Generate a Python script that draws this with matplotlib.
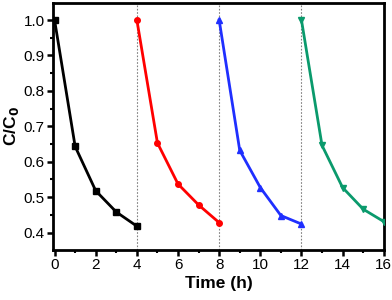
import numpy as np
import matplotlib.pyplot as plt
from matplotlib.ticker import MultipleLocator

plt.rcParams['font.family'] = ['Liberation Sans', 'DejaVu Sans']

# four degradation cycles
t1 = [0, 1, 2, 3, 4]
c1 = [1.0, 0.643, 0.518, 0.458, 0.418]
t2 = [4, 5, 6, 7, 8]
c2 = [1.0, 0.653, 0.537, 0.478, 0.428]
t3 = [8, 9, 10, 11, 12]
c3 = [1.0, 0.632, 0.527, 0.448, 0.424]
t4 = [12, 13, 14, 15, 16]
c4 = [1.0, 0.646, 0.527, 0.466, 0.431]
cycle_ends = [4, 8, 12]

fig = plt.figure(figsize=(3.92, 3.0), dpi=100)
ax = fig.add_axes([0.135, 0.167, 0.845, 0.823])

for x in cycle_ends:
    ax.axvline(x, color='gray', linestyle=(0, (1.5, 1.5)), linewidth=0.8, zorder=1)

ax.plot(t1, c1, color='black', marker='s', markersize=4, linewidth=2, zorder=3)
ax.plot(t2, c2, color='#ff0000', marker='o', markersize=4, linewidth=2, zorder=3)
ax.plot(t3, c3, color='#1f2fff', marker='^', markersize=5, linewidth=2, zorder=3)
ax.plot(t4, c4, color='#0a9a6c', marker='v', markersize=5, linewidth=2, zorder=3)

ax.set_xlim(-0.08, 16.02)
ax.set_ylim(0.351, 1.048)
ax.xaxis.set_major_locator(MultipleLocator(2))
ax.xaxis.set_minor_locator(MultipleLocator(1))
ax.yaxis.set_major_locator(MultipleLocator(0.1))
ax.yaxis.set_minor_locator(MultipleLocator(0.05))

for s in ax.spines.values():
    s.set_linewidth(2)
ax.tick_params(which='major', direction='out', length=4, width=1.8, labelsize=11, pad=2)
ax.tick_params(which='minor', direction='out', length=2.5, width=1.5)

ax.set_xlabel('Time (h)', fontsize=12.5, fontweight='bold', labelpad=3)
ax.set_ylabel('C/C$_\\mathbf{0}$', fontsize=12.5, fontweight='bold', labelpad=2)

fig.savefig('out.png', dpi=100)
